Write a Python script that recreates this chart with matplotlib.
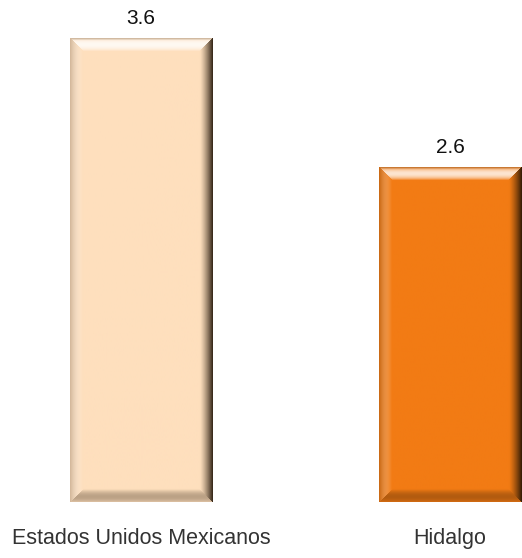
import numpy as np
import matplotlib.pyplot as plt
from matplotlib.colors import to_rgb

# data
categories = ['Estados Unidos Mexicanos', 'Hidalgo']
values = [3.6, 2.6]
bar_colors = ['#FEDFBD', '#F27B14']

plt.rcParams['font.family'] = ['Liberation Sans', 'DejaVu Sans']

fig = plt.figure(figsize=(5.22, 5.58), dpi=100)
ax = fig.add_axes([0, 0, 1, 1])
ax.set_xlim(-0.456, 1.233)
ax.set_ylim(-0.435, 3.903)
ax.axis('off')

x = np.arange(len(categories))
width = 0.46
ax.bar(x, values, width, color=bar_colors, zorder=1)


def bevel(color, w_px, h_px, b=13.0):
    # fake 3d bevel: light top, dark right / bottom, mitered corners
    h, w = int(round(h_px)), int(round(w_px))
    yy, xx = np.mgrid[0:h, 0:w] + 0.5
    d = np.stack([xx, w - xx, yy, h - yy])  # left, right, top, bottom
    side = d.argmin(axis=0)
    t = np.clip(1 - d.min(axis=0) / b, 0, 1)

    light = np.zeros((h, w))
    dark = np.zeros((h, w))
    light = np.where(side == 2, 0.8 * np.sin(np.pi * t) ** 0.7, light)
    dark = np.where(side == 2, 0.25 * np.clip(t - 0.8, 0, 1) * 5, dark)
    light = np.where(side == 0, 0.2 * np.sin(np.pi * t), light)
    dark = np.where(side == 0, 0.2 * t ** 2, dark)
    dark = np.where(side == 1, 0.92 * t ** 1.3, dark)
    dark = np.where(side == 3, 0.3 * np.sin(np.pi * t * 0.85), dark)

    img = np.ones((h, w, 3)) * np.array(to_rgb(color))
    img = img * (1 - light[..., None]) + light[..., None]
    shadow = np.array([0.12, 0.07, 0.02])
    img = img * (1 - dark[..., None]) + shadow * dark[..., None]
    return img


for xi, v, c in zip(x, values, bar_colors):
    p0 = ax.transData.transform((xi - width / 2, 0))
    p1 = ax.transData.transform((xi + width / 2, v))
    img = bevel(c, p1[0] - p0[0], p1[1] - p0[1])
    ax.imshow(img, extent=(xi - width / 2, xi + width / 2, 0, v), origin='upper',
              aspect='auto', interpolation='bilinear', zorder=2)
    ax.annotate(f'{v}', (xi, v), xytext=(0, 15 * 0.72), textcoords='offset points',
                ha='center', va='baseline', fontsize=15, color='#111111')

for xi, lab in zip(x, categories):
    ax.annotate(lab, (xi, 0), xytext=(0, -42 * 0.72), textcoords='offset points',
                ha='center', va='baseline', fontsize=15.5, color='#333333')

ax.set_xlim(-0.456, 1.233)
ax.set_ylim(-0.435, 3.903)

fig.savefig('out.png', dpi=100)
